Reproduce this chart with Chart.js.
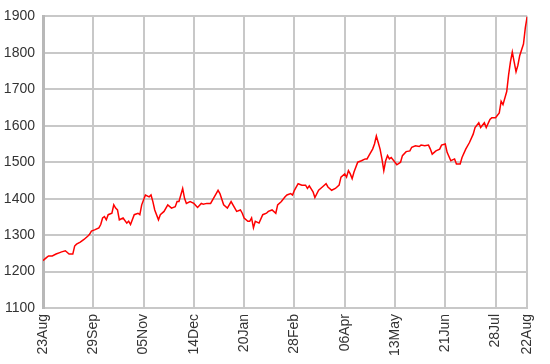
<!DOCTYPE html>
<html lang="en">

<head>
    <meta charset="UTF-8">
    <title>Price</title>
    <script src="https://cdn.jsdelivr.net/npm/chart.js"></script>
    <style>
        body { margin: 0; background: #fff; }
        #priceChart { display: block; }
    </style>
</head>

<body>
    <canvas id="priceChart" width="550" height="364"></canvas>

    <script>
        // trading-day index (weekdays since 23Aug) and price
        const dayIndex = [
            0, 2, 3, 5, 7, 9, 10, 12, 14, 16, 17, 18, 20, 22, 24, 25, 26, 28, 30, 31,
            32, 33, 34, 35, 37, 38, 39, 40, 41, 43, 45, 46, 47, 49, 51, 52, 53, 55, 57, 58,
            59, 60, 62, 63, 65, 67, 69, 71, 72, 73, 75, 76, 77, 79, 81, 83, 85, 86, 88, 90,
            92, 93, 94, 95, 97, 99, 100, 101, 103, 104, 106, 107, 108, 110, 111, 112, 113, 114, 116, 118,
            120, 121, 123, 125, 126, 128, 130, 131, 133, 134, 135, 137, 139, 141, 142, 143, 145, 146, 148, 150,
            152, 153, 155, 157, 159, 160, 162, 163, 164, 165, 166, 167, 169, 171, 173, 174, 175, 177, 178, 179,
            180, 181, 182, 183, 184, 185, 186, 187, 189, 190, 192, 193, 195, 197, 198, 200, 202, 203, 205, 207,
            208, 209, 211, 213, 214, 216, 217, 219, 221, 222, 224, 225, 227, 229, 231, 232, 234, 235, 237, 238,
            240, 241, 243, 245, 246, 247, 249, 250, 251, 252, 253, 254, 255, 256, 258, 259, 260
        ];
        const price = [
            1230, 1239, 1243, 1243, 1248, 1252, 1254, 1257, 1248, 1248, 1270, 1275, 1281, 1288, 1297, 1302, 1311, 1315, 1320, 1329,
            1347, 1351, 1342, 1356, 1360, 1383, 1374, 1369, 1342, 1347, 1333, 1338, 1329, 1356, 1360, 1356, 1383, 1410, 1405, 1410,
            1392, 1369, 1342, 1356, 1365, 1383, 1374, 1378, 1392, 1392, 1428, 1401, 1387, 1392, 1387, 1376, 1387, 1385, 1387, 1387,
            1405, 1414, 1423, 1414, 1383, 1374, 1383, 1392, 1374, 1365, 1369, 1360, 1347, 1338, 1338, 1347, 1320, 1338, 1333, 1356,
            1360, 1365, 1369, 1360, 1383, 1392, 1405, 1410, 1414, 1410, 1423, 1441, 1437, 1437, 1428, 1435, 1419, 1403, 1423, 1432,
            1441, 1432, 1423, 1428, 1437, 1459, 1468, 1459, 1477, 1468, 1455, 1473, 1500, 1504, 1509, 1509, 1518, 1536, 1550, 1572,
            1554, 1536, 1509, 1477, 1504, 1518, 1509, 1513, 1500, 1493, 1500, 1518, 1529, 1531, 1541, 1545, 1543, 1547, 1545, 1547,
            1536, 1522, 1531, 1536, 1547, 1550, 1527, 1504, 1509, 1495, 1495, 1513, 1536, 1554, 1577, 1595, 1608, 1595, 1608, 1595,
            1617, 1622, 1622, 1635, 1667, 1658, 1694, 1739, 1775, 1802, 1775, 1748, 1766, 1793, 1824, 1869, 1900
        ];
        const tickDays = [0, 27, 54, 81, 108, 135, 162, 189, 216, 243, 260];
        const tickLabels = ['23Aug', '29Sep', '05Nov', '14Dec', '20Jan', '28Feb', '06Apr', '13May', '21Jun', '28Jul', '22Aug'];

        const points = dayIndex.map((d, i) => ({ x: d, y: price[i] }));
        const gridColor = '#c8c8c8';
        const labelFont = { family: "'Liberation Sans', Arial, sans-serif", size: 14 };

        new Chart(document.getElementById('priceChart'), {
            type: 'line',
            data: {
                datasets: [{
                    data: points,
                    borderColor: '#ff0000',
                    borderWidth: 1.5,
                    pointRadius: 0,
                    tension: 0,
                    fill: false
                }]
            },
            options: {
                responsive: false,
                animation: false,
                layout: { padding: { top: 12, right: 10, left: 0, bottom: 0 } },
                plugins: { legend: { display: false }, tooltip: { enabled: false } },
                scales: {
                    x: {
                        type: 'linear',
                        min: 0,
                        max: 260,
                        afterBuildTicks: (axis) => { axis.ticks = tickDays.map(v => ({ value: v })); },
                        afterFit: (axis) => { axis.height = 56; },
                        grid: { color: gridColor, lineWidth: 2, drawTicks: false },
                        border: { color: gridColor, width: 2 },
                        ticks: {
                            autoSkip: false,
                            maxRotation: 90,
                            minRotation: 90,
                            padding: 6,
                            color: '#333',
                            font: labelFont,
                            callback: (value, index) => tickLabels[index]
                        }
                    },
                    y: {
                        min: 1100,
                        max: 1900,
                        afterFit: (axis) => { axis.width = 43; },
                        grid: { color: gridColor, lineWidth: 2, drawTicks: false },
                        border: { color: '#b8b8b8', width: 3 },
                        ticks: {
                            stepSize: 100,
                            padding: 8,
                            color: '#333',
                            font: labelFont,
                            callback: (value) => String(value)
                        }
                    }
                }
            }
        });
    </script>

</body>

</html>
